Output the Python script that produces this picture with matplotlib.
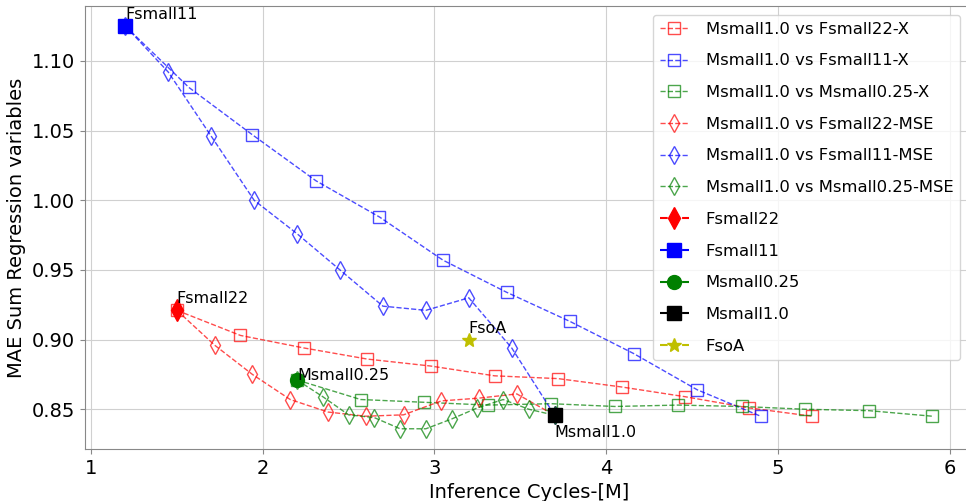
import numpy as np
import matplotlib
matplotlib.use('Agg')
import matplotlib.pyplot as plt

# reference models: (cycles [M], MAE)
models = ['Fsmall22', 'Fsmall11', 'Msmall0.25', 'Msmall1.0', 'FsoA']
model_x = [1.5, 1.2, 2.2, 3.7, 3.2]
model_y = [0.921, 1.125, 0.871, 0.8457, 0.900]

# Msmall1.0 distilled against the other models, X-based sweep
x_f22_X = [1.5, 1.87, 2.24, 2.61, 2.98, 3.35, 3.72, 4.09, 4.46, 4.83, 5.20]
y_f22_X = [0.921, 0.903, 0.894, 0.886, 0.881, 0.874, 0.872, 0.866, 0.859, 0.851, 0.845]
x_f11_X = [1.2, 1.57, 1.94, 2.31, 2.68, 3.05, 3.42, 3.79, 4.16, 4.53, 4.90]
y_f11_X = [1.125, 1.081, 1.047, 1.014, 0.988, 0.957, 0.934, 0.913, 0.890, 0.864, 0.845]
x_m025_X = [2.2, 2.57, 2.94, 3.31, 3.68, 4.05, 4.42, 4.79, 5.16, 5.53, 5.90]
y_m025_X = [0.871, 0.857, 0.855, 0.853, 0.854, 0.852, 0.853, 0.852, 0.850, 0.849, 0.845]

# MSE-based sweep
x_f22_MSE = [1.5, 1.72, 1.94, 2.16, 2.38, 2.60, 2.82, 3.04, 3.26, 3.48, 3.70]
y_f22_MSE = [0.921, 0.896, 0.875, 0.857, 0.848, 0.845, 0.846, 0.856, 0.858, 0.861, 0.8457]
x_f11_MSE = [1.2, 1.45, 1.70, 1.95, 2.20, 2.45, 2.70, 2.95, 3.20, 3.45, 3.70]
y_f11_MSE = [1.125, 1.092, 1.046, 1.000, 0.976, 0.950, 0.924, 0.921, 0.930, 0.894, 0.8457]
x_m025_MSE = [2.2, 2.35, 2.50, 2.65, 2.80, 2.95, 3.10, 3.25, 3.40, 3.55, 3.70]
y_m025_MSE = [0.871, 0.859, 0.846, 0.844, 0.836, 0.836, 0.843, 0.851, 0.857, 0.850, 0.8457]

# label offsets (data units in y)
label_dy = [0.005, 0.005, 0.0, -0.0157, 0.005]

fig = plt.figure(figsize=(9.66, 5.01), dpi=100)
ax = fig.add_axes([0.088, 0.104, 0.919, 0.884])

ms = 8
ax.plot(x_f22_X, y_f22_X, 'r--s', fillstyle='none', ms=ms, lw=1, alpha=0.7, label='Msmall1.0 vs Fsmall22-X')
ax.plot(x_f11_X, y_f11_X, 'b--s', fillstyle='none', ms=ms, lw=1, alpha=0.7, label='Msmall1.0 vs Fsmall11-X')
ax.plot(x_m025_X, y_m025_X, 'g--s', fillstyle='none', ms=ms, lw=1, alpha=0.7, label='Msmall1.0 vs Msmall0.25-X')
ax.plot(x_f22_MSE, y_f22_MSE, 'r--d', fillstyle='none', ms=9, lw=1, alpha=0.7, label='Msmall1.0 vs Fsmall22-MSE')
ax.plot(x_f11_MSE, y_f11_MSE, 'b--d', fillstyle='none', ms=9, lw=1, alpha=0.7, label='Msmall1.0 vs Fsmall11-MSE')
ax.plot(x_m025_MSE, y_m025_MSE, 'g--d', fillstyle='none', ms=9, lw=1, alpha=0.7, label='Msmall1.0 vs Msmall0.25-MSE')

styles = ['rd', 'bs', 'go', 'ks', 'y*']
sizes = [11, 10, 10, 10, 10]
for name, x, y, st, s in zip(models, model_x, model_y, styles, sizes):
    ax.plot([x], [y], st, ls='--', ms=s, label=name)
for name, x, y, dy in zip(models, model_x, model_y, label_dy):
    ax.text(x, y + dy, name, fontsize=11.5)

ax.grid(True, color='#d0d0d0')
for sp in ax.spines.values():
    sp.set_color('#888888')
ax.tick_params(labelsize=14, color='#888888')
ax.set_xlabel('Inference Cycles-[M]', fontsize=14)
ax.set_ylabel('MAE Sum Regression variables', fontsize=14)
ax.legend(loc='upper right', fontsize=11.8, labelspacing=1.02, handlelength=1.8,
          handletextpad=1.0, borderaxespad=0, bbox_to_anchor=(0.9854, 0.9797))

fig.savefig('out.png', dpi=100)
